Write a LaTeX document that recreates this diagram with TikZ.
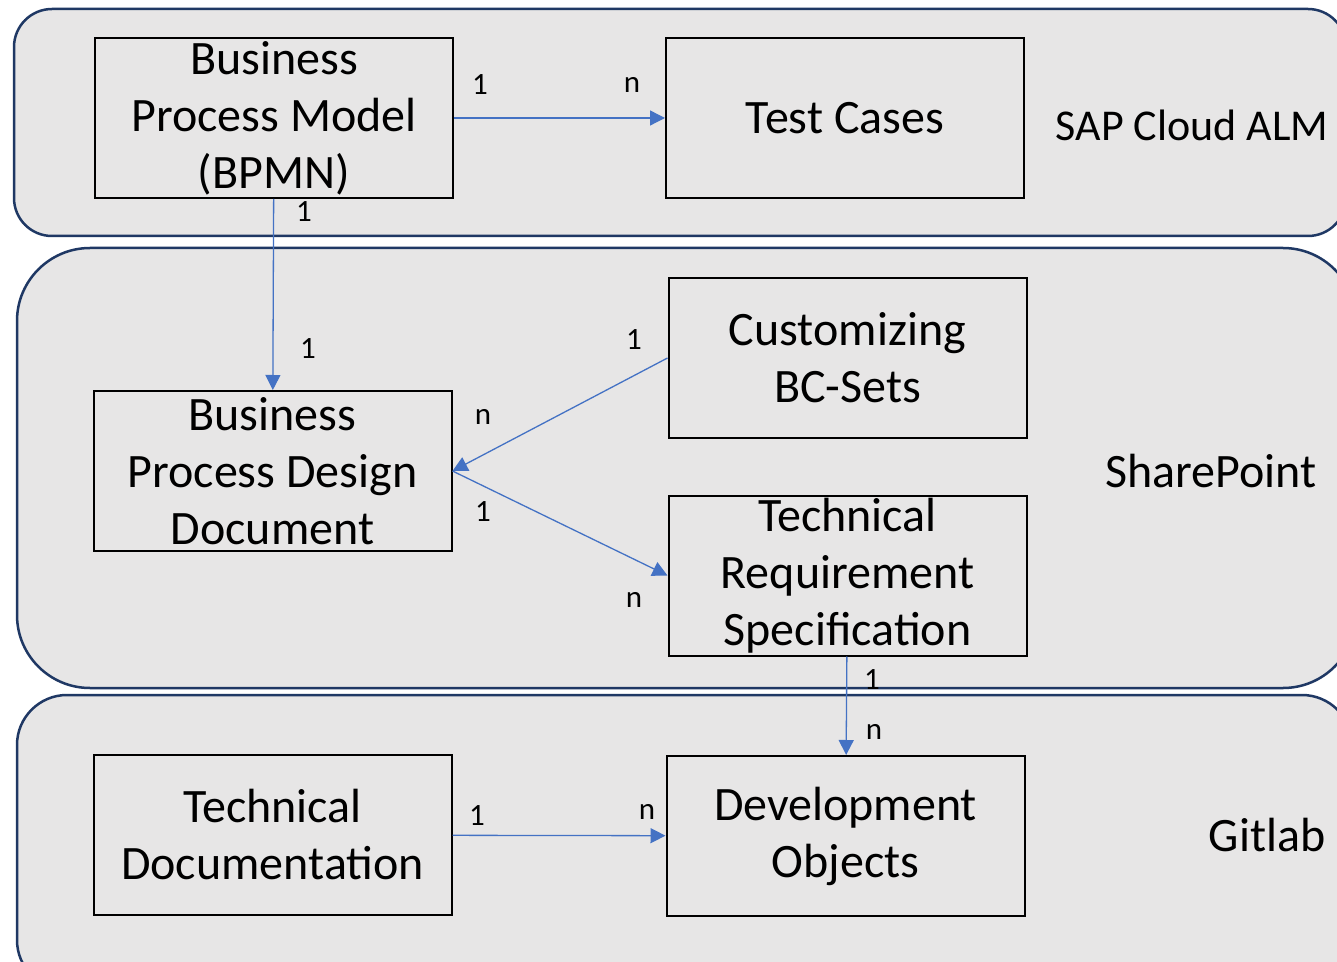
\documentclass[tikz,border=0pt]{standalone}
\usepackage{fontspec}
\setmainfont{Carlito}
\usetikzlibrary{arrows.meta,positioning}
\definecolor{lanefill}{HTML}{E7E6E6}
\definecolor{laneline}{HTML}{1F3864}
\definecolor{linkblue}{HTML}{4472C4}

\begin{document}
\begin{tikzpicture}[%
        x=0.5pt, y=-0.5pt,
        lane/.style={draw=laneline, fill=lanefill, line width=1.25pt},
        artefact/.style={draw=black, line width=1pt, minimum width=179pt, minimum height=80pt,
          inner sep=0pt, align=center, font=\fontsize{24}{28.5}\selectfont},
        system/.style={inner sep=0pt, font=\fontsize{24}{28.5}\selectfont},
        card/.style={inner sep=0pt, font=\fontsize{15.5}{18}\selectfont},
        >={Triangle[width=7.5pt,length=7.5pt]}
      ]
      \useasboundingbox (0,0) rectangle (1337,962);
      \begin{scope}
        \clip (0,0) rectangle (1337,962);
        \fill[white] (0,0) rectangle (1337,962);
        \path[lane, rounded corners=19pt] (14,9) rectangle (1346,236);
        \path[lane, rounded corners=36.5pt] (17,248) rectangle (1356,688);
        \path[lane, rounded corners=25pt] (17,695) rectangle (1352,990);
      \end{scope}
      % systems
      \node [system, font=\fontsize{22}{26}\selectfont] (alm) at (1192,125) {SAP Cloud ALM};
      \node [system] (sp) at (1211,471) {SharePoint};
      \node [system] (git) at (1267,835) {Gitlab};
      % artefacts
      \node [artefact] (0) at (274,118) {Business\\Process Model\\(BPMN)};
      \node [artefact] (1) at (845,118) {Test Cases};
      \node [artefact] (2) at (272.5,471) {Business\\Process Design\\Document};
      \node [artefact] (3) at (847.5,358) {Customizing\\BC-Sets};
      \node [artefact] (4) at (847.5,575.5) {Technical\\Requirement\\Specification};
      \node [artefact] (5) at (272.5,835) {Technical\\Documentation};
      \node [artefact] (6) at (845.5,836) {Development\\Objects};
      % links
      \path [draw, color=linkblue, line width=0.65pt] (0) edge[->] (1)
      (0) edge[->] (2)
      (3.west) edge[->] (2.east)
      (2.east) edge[->] (4.west)
      (4) edge[->] (6)
      (5) edge[->] (6);
      % cardinalities
      \node [card] (c01) at (480,85) {1};
      \node [card] (c10) at (632,85) {n};
      \node [card] (c02) at (304,212) {1};
      \node [card] (c20) at (308,349) {1};
      \node [card] (c32) at (634,340) {1};
      \node [card] (c23) at (483,417) {n};
      \node [card] (c24) at (483,512) {1};
      \node [card] (c42) at (634,600) {n};
      \node [card] (c46) at (872,680) {1};
      \node [card] (c64) at (874,732) {n};
      \node [card] (c56) at (477,816) {1};
      \node [card] (c65) at (647,812) {n};
    \end{tikzpicture}
\end{document}
